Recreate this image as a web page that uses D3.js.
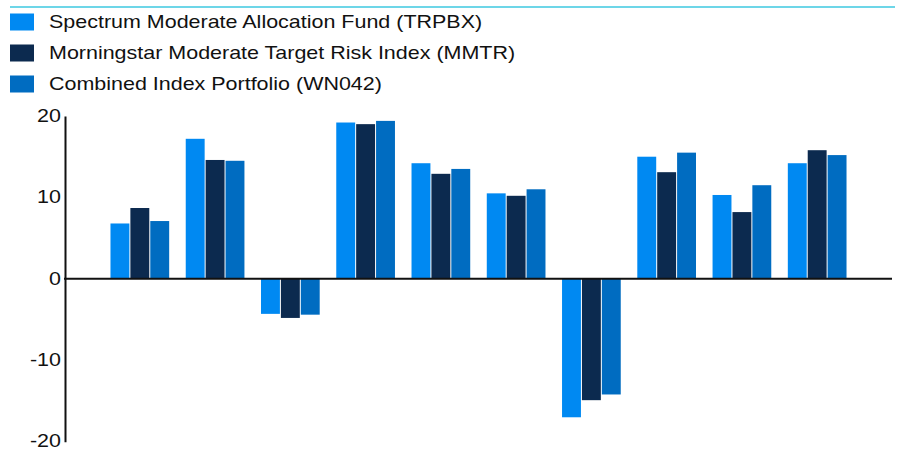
<!DOCTYPE html>
<html><head><meta charset="utf-8">
<script src="https://cdn.jsdelivr.net/npm/d3@7"></script>
<style>body{margin:0;background:#fff}svg{display:block}</style>
</head><body>
<script>
const categories = ["G1","G2","G3","G4","G5","G6","G7","G8","G9","G10"];
const seriesNames = ["Spectrum Moderate Allocation Fund (TRPBX)","Morningstar Moderate Target Risk Index (MMTR)","Combined Index Portfolio (WN042)"];
const trpbx = [6.8, 17.2, -4.3, 19.2, 14.2, 10.5, -17.0, 15.0, 10.3, 14.2];
const mmtr  = [8.7, 14.6, -4.8, 19.0, 12.9, 10.2, -14.9, 13.1, 8.2, 15.8];
const wn042 = [7.1, 14.5, -4.4, 19.4, 13.5, 11.0, -14.2, 15.5, 11.5, 15.2];
const colors = ["#0089F2","#0C2A4F","#006CC1"];
const yTicks = [-20,-10,0,10,20];

const W=897,H=451;
const svg=d3.select("body").append("svg").attr("width",W).attr("height",H);
const font="Liberation Sans, Arial, sans-serif";
const SX=1.155; // horizontal stretch of the text in the reference

// top rule
svg.append("line").attr("x1",10).attr("x2",895).attr("y1",7).attr("y2",7)
  .attr("stroke","#3CC8E0").attr("stroke-width",1.5);

// legend
const leg=svg.append("g");
seriesNames.forEach((n,i)=>{
  const y=13.5+i*31;
  leg.append("rect").attr("x",10).attr("y",y).attr("width",24).attr("height",17).attr("fill",colors[i]);
  leg.append("text").attr("transform",`translate(49,${y+14})scale(${SX},1)`)
    .attr("font-family",font).attr("font-size",18.6).attr("fill","#111").text(n);
});

const y=d3.scaleLinear().domain([-20,20]).range([441.7,116]);
const x=d3.scaleBand().domain(categories).range([102.2,854.8]).paddingInner(0.22).paddingOuter(0.11);
const xs=d3.scaleBand().domain([0,1,2]).range([0,x.bandwidth()]).paddingInner(0.05);

const data=[trpbx,mmtr,wn042];
const g=svg.append("g");
categories.forEach((c,ci)=>{
  data.forEach((s,si)=>{
    const v=s[ci];
    g.append("rect").attr("x",x(c)+xs(si)).attr("width",xs.bandwidth())
      .attr("y",y(Math.max(0,v))).attr("height",Math.abs(y(v)-y(0)))
      .attr("fill",colors[si]);
  });
});

// y axis
const ax=svg.append("g").attr("transform","translate(65,0)")
  .call(d3.axisLeft(y).tickValues(yTicks).tickSize(0).tickPadding(0).tickFormat(d=>String(d)));
ax.select(".domain").attr("stroke","#111").attr("stroke-width",2);
ax.selectAll(".tick text").attr("x",null).attr("dy",null)
  .attr("transform",`translate(-4,5.2)scale(${SX},1)`)
  .attr("font-family",font).attr("font-size",18.6).attr("fill","#111");

// zero line
svg.append("line").attr("x1",64).attr("x2",892).attr("y1",y(0)).attr("y2",y(0))
  .attr("stroke","#111").attr("stroke-width",2);
</script>
</body></html>
